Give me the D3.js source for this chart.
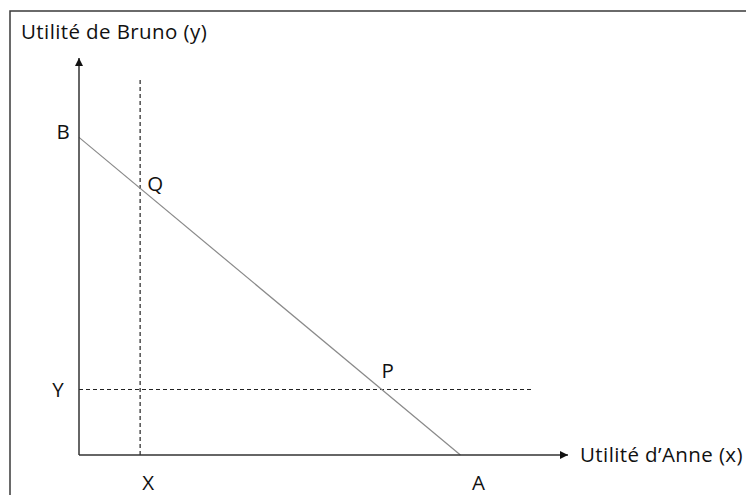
<!DOCTYPE html>
<html><head><meta charset="utf-8">
<script src="https://cdn.jsdelivr.net/npm/d3@7"></script>
<style>body{margin:0;background:#fff}svg{display:block}text{font-family:"Open Sans",Lato,sans-serif;fill:#111}</style>
</head><body><svg id="c" width="746" height="495"></svg>
<script>
// Data (utility units)
const pointNames = ["B", "Q", "P", "A"];
const frontierX = [0, 78];      // B -> A
const frontierY = [80, 0];
const thresholdX = [12.5];      // X (Anne's reservation utility)
const thresholdY = [16.5];      // Y (Bruno's reservation utility)
const axisTitles = ["Utilité de Bruno (y)", "Utilité d’Anne (x)"];
const tickLabels = ["X", "Y"];

const svg = d3.select("#c");
const x = d3.scaleLinear().domain([0, 100]).range([79, 568]);
const y = d3.scaleLinear().domain([0, 100]).range([455, 58]);

// frame
svg.append("rect").attr("x", 10).attr("y", 11).attr("width", 760).attr("height", 520)
  .attr("fill", "none").attr("stroke", "#3a3a3a").attr("stroke-width", 1.5);

// arrow markers
const defs = svg.append("defs");
defs.append("marker").attr("id", "arr").attr("viewBox", "0 0 10 10").attr("refX", 10).attr("refY", 5)
  .attr("markerWidth", 9).attr("markerHeight", 8).attr("markerUnits", "userSpaceOnUse").attr("orient", "auto")
  .append("path").attr("d", "M0,0L10,5L0,10Z").attr("fill", "#111");

const lineGen = d3.line().x(d => x(d[0])).y(d => y(d[1]));

// dashed thresholds
const fX = xv => frontierY[0] * (1 - xv / frontierX[1]);
const fYinv = yv => frontierX[1] * (1 - yv / frontierY[0]);
svg.append("path").attr("d", lineGen([[thresholdX[0], 0], [thresholdX[0], 94.5]]))
  .attr("stroke", "#222").attr("stroke-width", 1.2).attr("stroke-dasharray", "4,3").attr("fill", "none");
svg.append("path").attr("d", lineGen([[0, thresholdY[0]], [92.6, thresholdY[0]]]))
  .attr("stroke", "#222").attr("stroke-width", 1.2).attr("stroke-dasharray", "4,3").attr("fill", "none");

// frontier
svg.append("path").attr("d", lineGen([[frontierX[0], frontierY[0]], [frontierX[1], frontierY[1]]]))
  .attr("stroke", "#8a8a8a").attr("stroke-width", 1.2).attr("fill", "none");

// axes
svg.append("path").attr("d", lineGen([[0, 0], [0, 100]])).attr("stroke", "#333").attr("stroke-width", 1.5)
  .attr("fill", "none").attr("marker-end", "url(#arr)");
svg.append("path").attr("d", lineGen([[0, 0], [100, 0]])).attr("stroke", "#333").attr("stroke-width", 1.5)
  .attr("fill", "none").attr("marker-end", "url(#arr)");

// titles
const tfs = 20.5;
svg.append("text").attr("x", 21).attr("y", 39).attr("font-size", tfs).attr("letter-spacing", 0.4).text(axisTitles[0]);
svg.append("text").attr("x", 580).attr("y", 462).attr("font-size", tfs).attr("letter-spacing", 0.4).text(axisTitles[1]);

// point labels
const fs = 20.5;
const lab = (t, px, py) => svg.append("text").attr("x", px).attr("y", py).attr("font-size", fs)
  .attr("text-anchor", "middle").attr("dominant-baseline", "central").text(t);
lab(pointNames[0], x(0) - 16, y(frontierY[0]) - 6);
lab(pointNames[1], x(thresholdX[0]) + 15, y(fX(thresholdX[0])) - 5);
lab(pointNames[2], x(fYinv(thresholdY[0])) + 6, y(thresholdY[0]) - 19);
lab(pointNames[3], x(frontierX[1]) + 18, y(0) + 27);
lab(tickLabels[0], x(thresholdX[0]) + 8, y(0) + 27);
lab(tickLabels[1], x(0) - 21, y(thresholdY[0]));
</script></body></html>
